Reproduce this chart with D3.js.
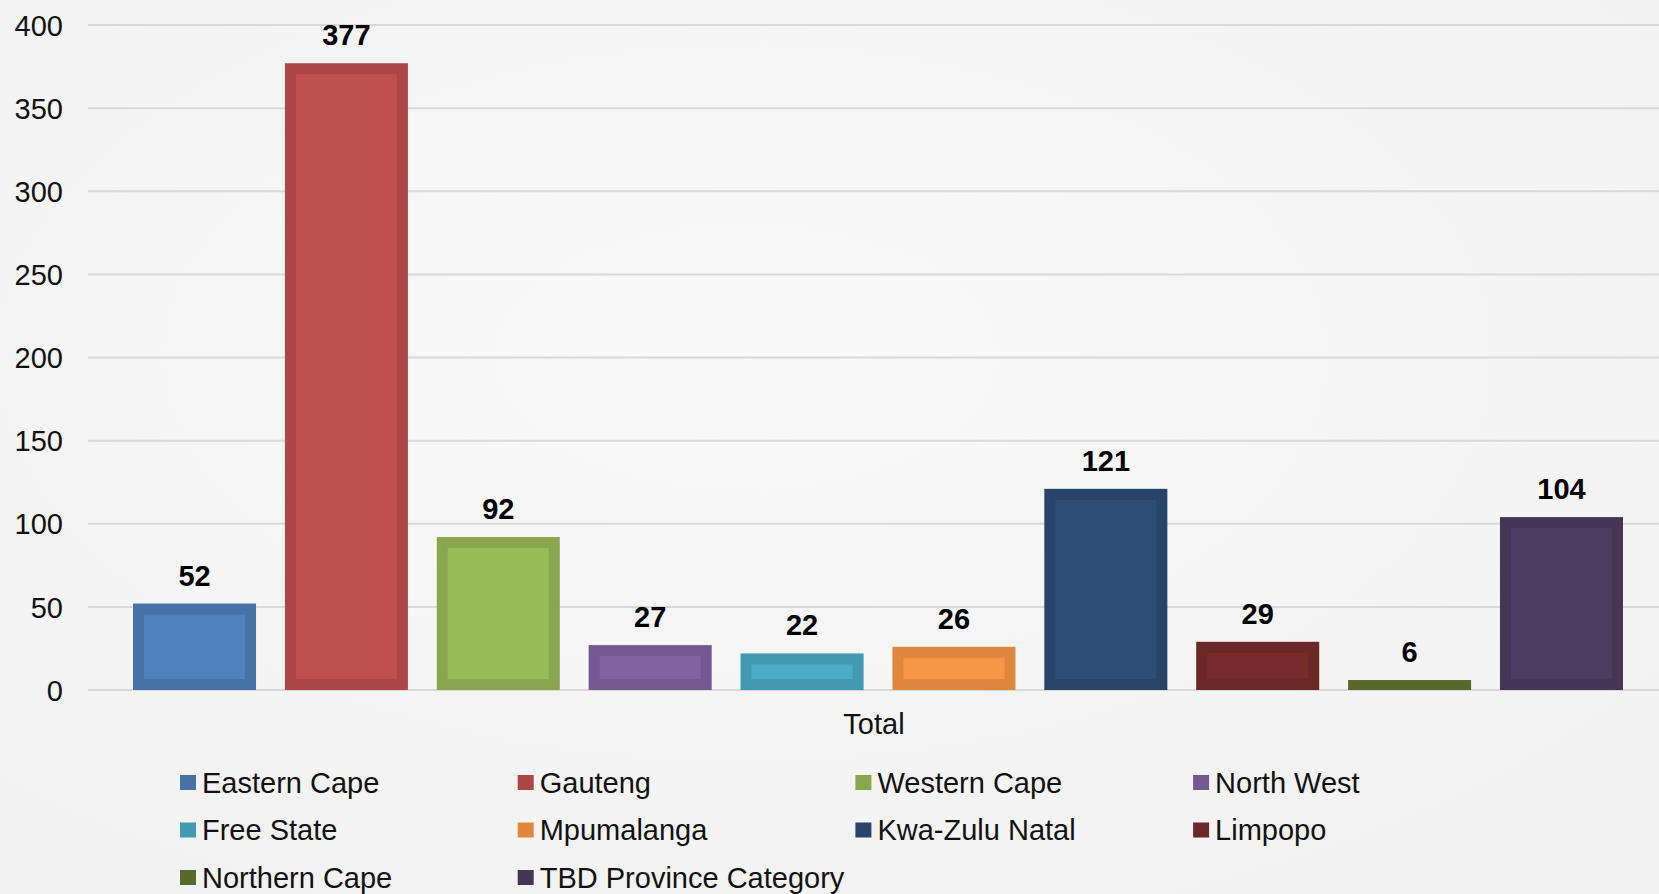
<!DOCTYPE html>
<html>
<head>
<meta charset="utf-8">
<script src="https://cdn.jsdelivr.net/npm/d3@7"></script>
<style>
html, body { margin: 0; padding: 0; background: #f5f5f5; }
svg { display: block; }
text { font-family: "Liberation Sans", Arial, sans-serif; }
</style>
</head>
<body>
<svg id="chart" width="1659" height="894"></svg>
<script>
// ---- data ----
const categories = ["Eastern Cape", "Gauteng", "Western Cape", "North West", "Free State",
  "Mpumalanga", "Kwa-Zulu Natal", "Limpopo", "Northern Cape", "TBD Province Category"];
const values = [52, 377, 92, 27, 22, 26, 121, 29, 6, 104];
const yTicks = [0, 50, 100, 150, 200, 250, 300, 350, 400];
const axisLabel = "Total";
const fillColors = ["#4f81bd", "#c0504d", "#9bbb59", "#8064a2", "#4bacc6",
  "#f79646", "#2c4d75", "#772c2a", "#5f7530", "#4d3b62"];
const edgeColors = ["#4672a8", "#ab4744", "#8aa74f", "#72598f", "#429ab2",
  "#e0873f", "#284468", "#6c2826", "#566b2b", "#453656"];

// ---- layout ----
const svg = d3.select("#chart");
const W = 1659, H = 894;
const plotLeft = 88, plotRight = 1659;
const yTop = 25, yBottom = 690;
const FS = 29;

const defs = svg.append("defs");
const grad = defs.append("radialGradient").attr("id", "bg").attr("cx", "45%").attr("cy", "40%").attr("r", "80%");
grad.append("stop").attr("offset", "0%").attr("stop-color", "#f9f9f9");
grad.append("stop").attr("offset", "100%").attr("stop-color", "#f1f1f1");
svg.append("rect").attr("width", W).attr("height", H).attr("fill", "url(#bg)");

const y = d3.scaleLinear().domain([0, 400]).range([yBottom, yTop]);
const x = d3.scaleBand().domain(categories).range([133, 1623]).paddingInner(0.19).paddingOuter(0);

// gridlines
svg.append("g").selectAll("line").data(yTicks).join("line")
  .attr("x1", plotLeft).attr("x2", plotRight)
  .attr("y1", d => y(d)).attr("y2", d => y(d))
  .attr("stroke", "#d9d9d9").attr("stroke-width", 2);

// y axis labels via d3 axis
const yAxis = d3.axisLeft(y).tickValues(yTicks).tickSize(0).tickPadding(0);
const ga = svg.append("g").attr("transform", "translate(63,0)").call(yAxis);
ga.select(".domain").remove();
ga.selectAll("text").attr("font-size", FS).attr("fill", "#111")
  .attr("font-family", "'Liberation Sans', Arial, sans-serif").attr("dy", "0.35em");

// bars
const inset = 11;
const bars = svg.append("g").selectAll("g").data(categories).join("g");
bars.append("rect")
  .attr("x", d => x(d)).attr("width", x.bandwidth())
  .attr("y", (d, i) => y(values[i])).attr("height", (d, i) => y(0) - y(values[i]))
  .attr("fill", (d, i) => edgeColors[i]);
bars.filter((d, i) => (y(0) - y(values[i])) > 2 * inset + 1).append("rect")
  .attr("x", d => x(d) + inset).attr("width", x.bandwidth() - 2 * inset)
  .attr("y", d => y(values[categories.indexOf(d)]) + inset)
  .attr("height", d => y(0) - y(values[categories.indexOf(d)]) - 2 * inset)
  .attr("fill", d => fillColors[categories.indexOf(d)]);

// value labels
svg.append("g").selectAll("text").data(categories).join("text")
  .attr("x", d => x(d) + x.bandwidth() / 2)
  .attr("y", (d, i) => y(values[i]) - 18)
  .attr("text-anchor", "middle").attr("font-size", FS).attr("font-weight", "bold").attr("fill", "#000")
  .text((d, i) => values[i]);

// category axis label
svg.append("text").attr("x", 874).attr("y", 734).attr("text-anchor", "middle")
  .attr("font-size", FS).attr("fill", "#111").text(axisLabel);

// legend
const legend = svg.append("g").selectAll("g").data(categories).join("g")
  .attr("transform", (d, i) => `translate(${180 + (i % 4) * 337.7},${792.7 + Math.floor(i / 4) * 47.5})`);
legend.append("rect").attr("x", 0).attr("y", -17.7).attr("width", 16).attr("height", 15)
  .attr("fill", (d, i) => edgeColors[i]);
legend.append("text").attr("x", 22).attr("y", 0).attr("font-size", FS).attr("fill", "#111").text(d => d);
</script>
</body>
</html>
